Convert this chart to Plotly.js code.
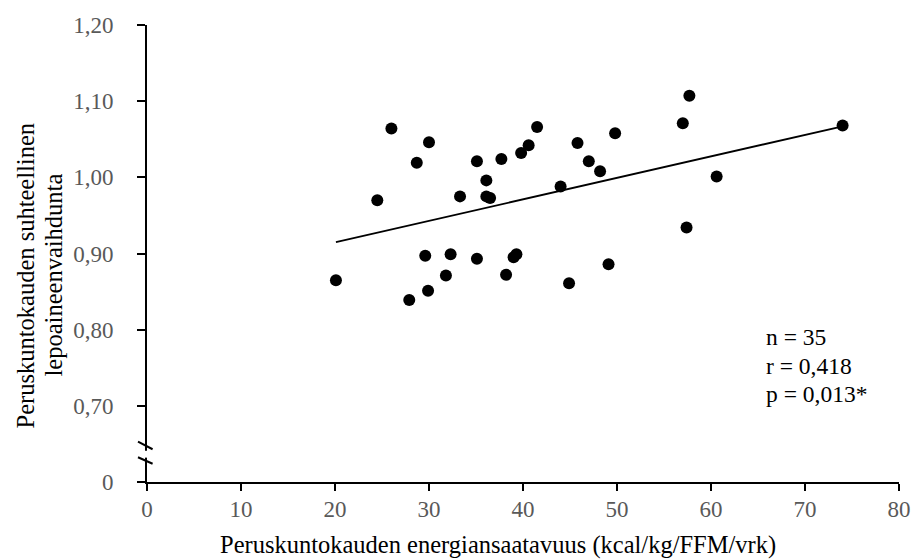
<!DOCTYPE html>
<html>
<head>
<meta charset="utf-8">
<script src="https://cdn.plot.ly/plotly-3.0.1.min.js"></script>
<style>html,body{margin:0;padding:0;background:#fff;}#chart{width:913px;height:559px;}</style>
</head>
<body>
<div id="chart"></div>
<script>
// Data
var energyAvailability = [20.1, 24.5, 26.0, 27.9, 28.7, 29.6, 30.0, 29.9, 31.8, 32.3,
  33.3, 35.1, 35.1, 36.1, 36.1, 36.5, 37.7, 38.2, 39.0, 39.3,
  39.8, 40.6, 41.5, 44.0, 44.9, 45.8, 47.0, 48.2, 49.1, 49.8,
  57.0, 57.4, 57.7, 60.6, 74.0];
var relativeRMR = [0.865, 0.970, 1.064, 0.839, 1.019, 0.897, 1.046, 0.851, 0.871, 0.899,
  0.975, 1.021, 0.893, 0.996, 0.975, 0.973, 1.024, 0.872, 0.895, 0.899,
  1.032, 1.042, 1.066, 0.988, 0.861, 1.045, 1.021, 1.008, 0.886, 1.058,
  1.071, 0.934, 1.107, 1.001, 1.068];
var trendX = [20.1, 74.0];
var trendY = [0.915, 1.067];
var xTickVals = [0, 10, 20, 30, 40, 50, 60, 70, 80];
var xTickText = ['0', '10', '20', '30', '40', '50', '60', '70', '80'];
var yTickVals = [0.6, 0.7, 0.8, 0.9, 1.0, 1.1, 1.2];
var yTickText = ['0', '0,70', '0,80', '0,90', '1,00', '1,10', '1,20'];
var statsText = ['n = 35', 'r = 0,418', 'p = 0,013*'];
var xTitle = 'Peruskuntokauden energiansaatavuus (kcal/kg/FFM/vrk)';
var yTitleLines = ['Peruskuntokauden suhteellinen', 'lepoaineenvaihdunta'];

var FONT = 'Liberation Serif, Times New Roman, serif';
var plotW = 752, plotH = 456.7, mL = 146.7, mT = 25;
function px2paperX(px) { return (px - mL) / plotW; }
function px2paperY(py) { return (mT + plotH - py) / plotH; }

var traces = [
  {x: trendX, y: trendY, type: 'scatter', mode: 'lines',
   line: {color: '#000', width: 1.8}, hoverinfo: 'skip', showlegend: false},
  {x: energyAvailability, y: relativeRMR, type: 'scatter', mode: 'markers',
   marker: {color: '#000', size: 12}, showlegend: false}
];

var annotations = [
  {text: xTitle, xref: 'paper', yref: 'paper', x: px2paperX(498), y: px2paperY(545),
   xanchor: 'center', yanchor: 'middle', showarrow: false,
   font: {family: FONT, size: 24.5, color: '#000'}}
];
var yTitleX = [25, 53];
yTitleLines.forEach(function (t, i) {
  annotations.push({text: t, xref: 'paper', yref: 'paper', x: px2paperX(yTitleX[i]), y: px2paperY(275),
    xanchor: 'center', yanchor: 'middle', textangle: -90, showarrow: false,
    font: {family: FONT, size: 24.5, color: '#000'}});
});
var statsY = [337, 366, 394];
statsText.forEach(function (t, i) {
  annotations.push({text: t, xref: 'paper', yref: 'paper', x: px2paperX(764), y: px2paperY(statsY[i]),
    xanchor: 'left', yanchor: 'middle', align: 'left', showarrow: false,
    font: {family: FONT, size: 23.5, color: '#000'}});
});

var layout = {
  width: 913, height: 559,
  margin: {l: mL, r: 913 - mL - plotW, t: mT, b: 559 - mT - plotH},
  paper_bgcolor: '#fff', plot_bgcolor: '#fff',
  font: {family: FONT, color: '#000'},
  xaxis: {
    range: [0, 80], tickvals: xTickVals, ticktext: xTickText,
    showgrid: false, zeroline: false, showline: true, linecolor: '#000', linewidth: 2,
    ticks: 'outside', ticklen: 7, tickwidth: 2, tickcolor: '#000',
    tickfont: {family: FONT, size: 23, color: '#595959'}, ticklabelstandoff: -2
  },
  yaxis: {
    range: [0.6, 1.2], tickvals: yTickVals, ticktext: yTickText,
    showgrid: false, zeroline: false, showline: true, linecolor: '#000', linewidth: 2,
    ticks: 'outside', ticklen: 8, tickwidth: 2, tickcolor: '#000',
    tickfont: {family: FONT, size: 23, color: '#595959'}, ticklabelstandoff: 19
  },
  shapes: [
    {type: 'rect', layer: 'above', xref: 'paper', yref: 'y',
     x0: -4 / plotW, x1: 4 / plotW, y0: 0.632, y1: 0.641,
     fillcolor: '#fff', line: {width: 0}},
    {type: 'line', layer: 'above', xref: 'paper', yref: 'y',
     x0: -9 / plotW, x1: 5.6 / plotW, y0: 0.653, y1: 0.643,
     line: {color: '#000', width: 2}},
    {type: 'line', layer: 'above', xref: 'paper', yref: 'y',
     x0: -9 / plotW, x1: 5.6 / plotW, y0: 0.6325, y1: 0.624,
     line: {color: '#000', width: 2}}
  ],
  annotations: annotations
};

Plotly.newPlot('chart', traces, layout, {displayModeBar: false, staticPlot: true});
</script>
</body>
</html>
